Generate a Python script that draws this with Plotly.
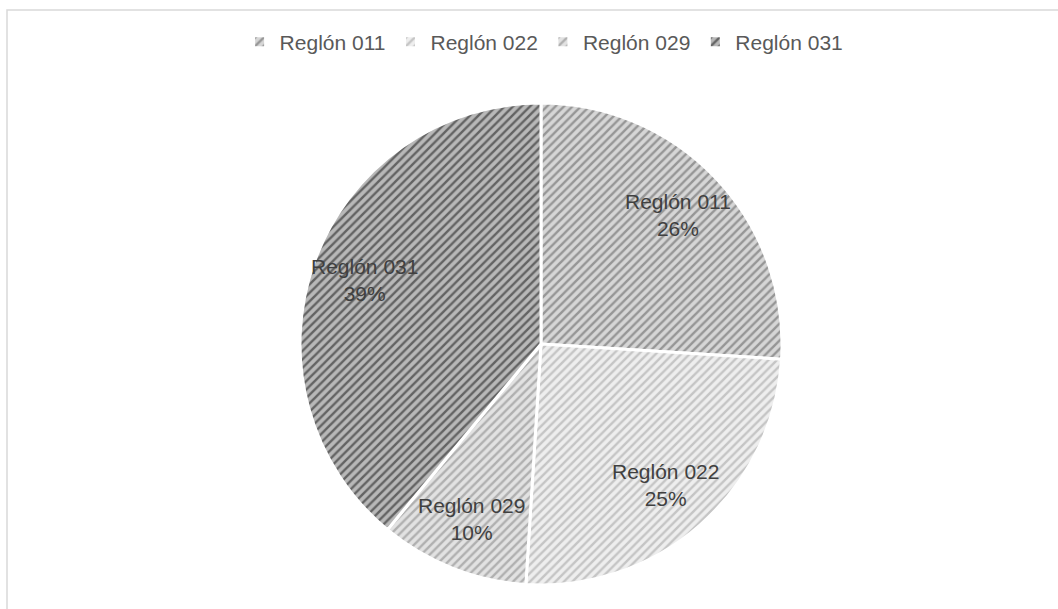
import math
import plotly.graph_objects as go

labels = ["Reglón 011", "Reglón 022", "Reglón 029", "Reglón 031"]
values = [26, 25, 10, 39]
fg_colors = ["#555555", "#9c9c9c", "#7e7e7e", "#0d0d0d"]
bg_colors = ["#d6d6d6", "#eeeeee", "#e2e2e2", "#b8b8b8"]

W, H = 1058, 609
ml, mr, mt, mb = 24, 0, 103, 24
plot_h = H - mt - mb
plot_w = W - ml - mr
R_px = min(plot_h, plot_w) / 2
label_frac = 0.78

fig = go.Figure(go.Pie(
    labels=labels,
    values=values,
    sort=False,
    direction="clockwise",
    rotation=0,
    marker=dict(
        colors=bg_colors,
        line=dict(color="white", width=3),
        pattern=dict(shape="/", fgcolor=fg_colors, bgcolor=bg_colors,
                     size=6, solidity=0.4, fillmode="overlay"),
    ),
    textinfo="none",
    hoverinfo="label+percent",
))

# data labels placed along each slice's mid angle
total = sum(values)
cum = 0
for lab, v in zip(labels, values):
    mid = (cum + v / 2) / total * 2 * math.pi
    cum += v
    dx = math.sin(mid) * R_px * label_frac
    dy = math.cos(mid) * R_px * label_frac
    fig.add_annotation(
        xref="paper", yref="paper",
        x=0.5 + dx / plot_w, y=0.5 + dy / plot_h,
        xanchor="center", yanchor="middle",
        text=f"{lab}<br>{round(v / total * 100)}%",
        showarrow=False, align="center",
        font=dict(family="Liberation Sans", size=21, color="#404040"),
    )

fig.add_shape(type="rect", xref="paper", yref="paper",
              x0=(7 - ml) / plot_w, x1=1.2,
              y0=-0.3, y1=1 + (mt - 10) / plot_h,
              line=dict(color="#d9d9d9", width=1.5), fillcolor="rgba(0,0,0,0)")

fig.update_layout(
    width=W, height=H,
    margin=dict(l=ml, r=mr, t=mt, b=mb, autoexpand=False),
    paper_bgcolor="white",
    plot_bgcolor="white",
    showlegend=True,
    legend=dict(orientation="h", x=0.503, xanchor="center",
                yref="container", y=1 - 42 / H, yanchor="middle",
                font=dict(family="Liberation Sans", size=21, color="#595959"),
                itemwidth=30, traceorder="normal"),
)

fig.write_html("out.html")
